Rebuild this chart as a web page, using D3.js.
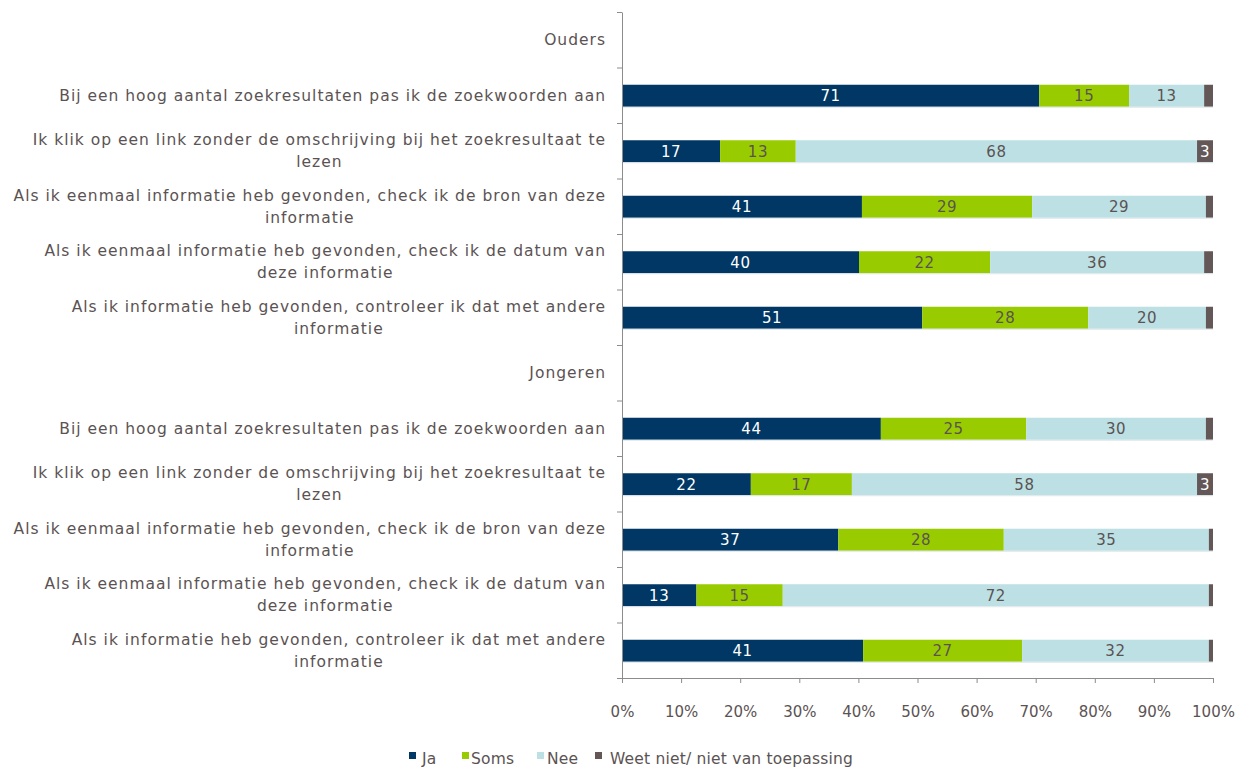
<!DOCTYPE html>
<html>
<head>
<meta charset="utf-8">
<script src="https://cdnjs.cloudflare.com/ajax/libs/d3/7.8.5/d3.min.js"></script>
<style>
    body { margin: 0; background: #fff; }
    svg { font-family: "DejaVu Sans", Verdana, sans-serif; }
</style>
</head>
<body>
<div class="container"></div>
<script>
var groups = ['Ouders', 'Jongeren'];

var statements = [
    ['Bij een hoog aantal zoekresultaten pas ik de zoekwoorden aan'],
    ['Ik klik op een link zonder de omschrijving bij het zoekresultaat te', 'lezen'],
    ['Als ik eenmaal informatie heb gevonden, check ik de bron van deze', 'informatie'],
    ['Als ik eenmaal informatie heb gevonden, check ik de datum van', 'deze informatie'],
    ['Als ik informatie heb gevonden, controleer ik dat met andere', 'informatie']
];

var seriesNames = ['Ja', 'Soms', 'Nee', 'Weet niet/ niet van toepassing'];

// percentages per statement, Ouders then Jongeren
var jaOuders = [70.6, 16.6, 40.6, 40.1, 50.8];
var somsOuders = [15.2, 12.8, 28.8, 22.2, 28.1];
var neeOuders = [12.7, 67.9, 29.4, 36.2, 19.9];
var weetOuders = [1.5, 2.7, 1.2, 1.5, 1.2];

var jaJongeren = [43.8, 21.8, 36.6, 12.6, 40.8];
var somsJongeren = [24.6, 17.1, 28.0, 14.6, 26.9];
var neeJongeren = [30.4, 58.4, 34.7, 72.1, 31.6];
var weetJongeren = [1.2, 2.7, 0.7, 0.7, 0.7];

var xTicks = [0, 10, 20, 30, 40, 50, 60, 70, 80, 90, 100];

var drawChart = function () {

    var WIDTH = 1254;
    var HEIGHT = 767;
    var LEFT = 622, RIGHT = 1213, TOP = 12, BOTTOM = 678;
    var TEXT = '#5b5353';
    var AXIS = '#8c8c8c';
    var colors = ['#003764', '#99cc00', '#bce0e4', '#645757'];
    var labelColors = ['#ffffff', '#5b5353', '#5b5353', '#ffffff'];

    // build rows: header row + statements for each group
    var rows = [];
    var groupData = [
        [jaOuders, somsOuders, neeOuders, weetOuders],
        [jaJongeren, somsJongeren, neeJongeren, weetJongeren]
    ];
    groups.forEach(function (g, gi) {
        rows.push({id: 'h' + gi, lines: [g], values: null});
        statements.forEach(function (s, si) {
            rows.push({
                id: 'r' + gi + '_' + si,
                lines: s,
                values: groupData[gi].map(function (arr) { return arr[si]; })
            });
        });
    });

    var xScale = d3.scaleLinear().domain([0, 100]).range([LEFT, RIGHT]);
    var yScale = d3.scaleBand()
        .domain(rows.map(function (d) { return d.id; }))
        .range([TOP, BOTTOM])
        .paddingInner(0.6)
        .paddingOuter(0.3);
    var rowScale = d3.scaleLinear().domain([0, rows.length]).range([TOP, BOTTOM]);

    var svg = d3.select('.container')
        .append('svg')
        .attr('width', WIDTH)
        .attr('height', HEIGHT);

    // bars
    var barH = 22;
    rows.forEach(function (row) {
        if (!row.values) return;
        var cy = yScale(row.id) + yScale.bandwidth() / 2 + 0.5;
        var start = 0;
        row.values.forEach(function (v, i) {
            var x0 = xScale(start), x1 = xScale(start + v);
            svg.append('rect')
                .attr('x', x0)
                .attr('y', cy - barH / 2)
                .attr('width', x1 - x0)
                .attr('height', barH)
                .attr('fill', colors[i]);
            if (v >= 2.5) {
                svg.append('text')
                    .attr('x', (x0 + x1) / 2)
                    .attr('y', cy)
                    .attr('dy', '0.36em')
                    .attr('text-anchor', 'middle')
                    .attr('font-size', 15)
                    .attr('letter-spacing', 0.6)
                    .attr('fill', labelColors[i])
                    .text(Math.round(v));
            }
            start += v;
        });
        // thin light line under bar
        svg.append('line')
            .attr('x1', xScale(0)).attr('x2', xScale(100))
            .attr('y1', cy + barH / 2 + 0.5).attr('y2', cy + barH / 2 + 0.5)
            .attr('stroke', '#dde6ea');
    });

    // category labels
    var LABEL_RIGHT = 606;
    rows.forEach(function (row) {
        var cy = yScale(row.id) + yScale.bandwidth() / 2;
        var g = svg.append('g');
        var texts = row.lines.map(function (line, li) {
            return g.append('text')
                .attr('font-size', 15.5)
                .attr('letter-spacing', 1)
                .attr('fill', TEXT)
                .attr('text-anchor', 'middle')
                .attr('y', cy + (li - (row.lines.length - 1) / 2) * 22)
                .attr('dy', '0.36em')
                .text(line);
        });
        var maxW = d3.max(texts, function (t) { return t.node().getComputedTextLength(); });
        texts.forEach(function (t) { t.attr('x', LABEL_RIGHT - maxW / 2); });
    });

    // y axis with ticks at row boundaries
    var yAxis = d3.axisLeft(rowScale)
        .tickValues(d3.range(rows.length + 1))
        .tickSize(5)
        .tickSizeOuter(0)
        .tickFormat('');
    svg.append('g')
        .attr('transform', 'translate(' + LEFT + ',0)')
        .call(yAxis);

    // x axis
    var xAxis = d3.axisBottom(xScale)
        .tickValues(xTicks)
        .tickSize(5)
        .tickSizeOuter(0)
        .tickPadding(23)
        .tickFormat(function (d) { return d + '%'; });
    svg.append('g')
        .attr('transform', 'translate(0,' + BOTTOM + ')')
        .call(xAxis);

    svg.selectAll('.domain, .tick line').attr('stroke', AXIS);
    svg.selectAll('.tick text')
        .attr('fill', TEXT)
        .attr('font-size', 15)
        .attr('font-family', '"DejaVu Sans", Verdana, sans-serif');

    // legend
    var legendX = [409, 462, 537, 595];
    var legendTextX = [422, 471, 547, 610];
    var legend = svg.append('g');
    seriesNames.forEach(function (name, i) {
        legend.append('rect')
            .attr('x', legendX[i])
            .attr('y', 752)
            .attr('width', 7)
            .attr('height', 7)
            .attr('fill', colors[i]);
        legend.append('text')
            .attr('x', legendTextX[i])
            .attr('y', 764)
            .attr('font-size', 15.5)
            .attr('letter-spacing', 0.2)
            .attr('fill', TEXT)
            .text(name);
    });
};

window.onload = drawChart;
</script>
</body>
</html>
